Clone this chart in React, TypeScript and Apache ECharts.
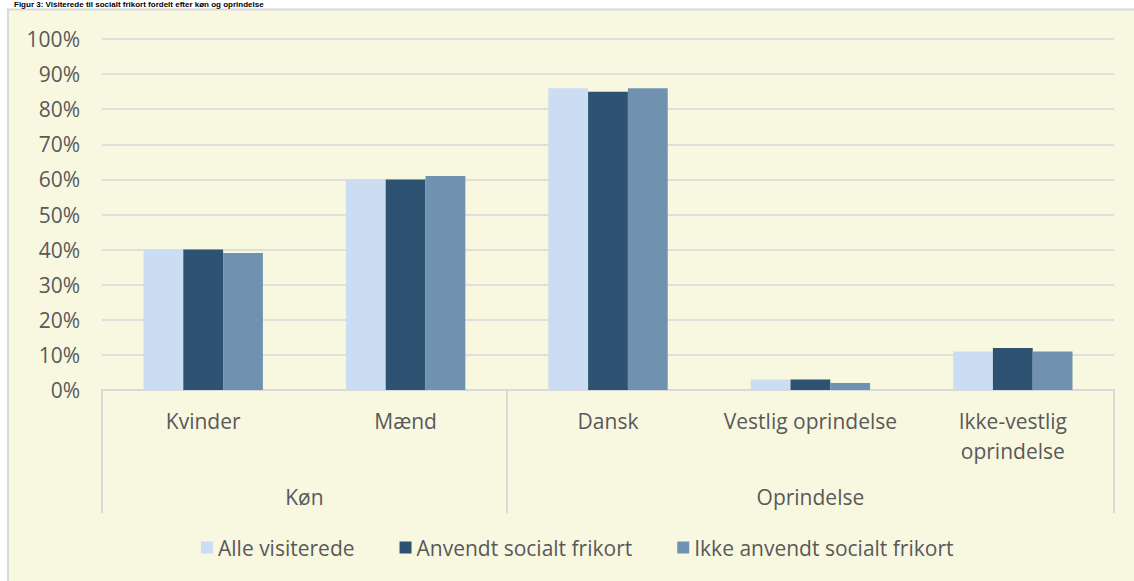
import React, { useEffect, useRef } from "react";
import * as echarts from "echarts";

const titleText = "Figur 3: Visiterede til socialt frikort fordelt efter køn og oprindelse";
const categories = ["Kvinder", "Mænd", "Dansk", "Vestlig oprindelse", "Ikke-vestlig\noprindelse"];
const groupLabels = ["", "", "Køn", "", "", "", "", "Oprindelse", "", "", ""];
const groupStarts = [0, 2];
const seriesNames = ["Alle visiterede", "Anvendt socialt frikort", "Ikke anvendt socialt frikort"];
const alleVisiterede = [40, 60, 86, 3, 11];
const anvendt = [40, 60, 85, 3, 12];
const ikkeAnvendt = [39, 61, 86, 2, 11];
const seriesColors = ["#CBDDF2", "#2E5271", "#7091AF"];
const yMin = 0;
const yMax = 100;
const yInterval = 10;

const FONT = "'Open Sans', 'Noto Sans', sans-serif";
const TEXT = "#595959";
const LINE = "#D9D9D9";
const FS = 21;

export default function App() {
  const ref = useRef<HTMLDivElement>(null);
  useEffect(() => {
    if (!ref.current) return;
    const chart = echarts.init(ref.current, undefined, { renderer: "svg" });
    const values = [alleVisiterede, anvendt, ikkeAnvendt];
    chart.setOption({
      animation: false,
      textStyle: { fontFamily: FONT },
      graphic: [
        {
          type: "rect",
          z: -10,
          silent: true,
          shape: { x: 8, y: 9.5, width: 1130, height: 580 },
          style: { fill: "#F8F8E1", stroke: LINE, lineWidth: 2 },
        },
        {
          type: "text",
          x: 14,
          y: 0,
          silent: true,
          style: {
            text: titleText,
            fill: "#000000",
            font: "bold 8px 'Liberation Sans', Arial, sans-serif",
            verticalAlign: "top",
          },
        },
      ],
      grid: { left: 102, right: 20, top: 39, bottom: 191, containLabel: false },
      legend: {
        data: seriesNames,
        left: 201,
        top: 537,
        padding: 0,
        icon: "rect",
        itemWidth: 12,
        itemHeight: 12,
        itemGap: 45,
        textStyle: { color: TEXT, fontSize: FS, fontFamily: FONT },
      },
      xAxis: [
        {
          type: "category",
          data: categories,
          position: "bottom",
          axisLine: { show: true, lineStyle: { color: LINE, width: 2 } },
          axisTick: {
            show: true,
            interval: (i: number) => groupStarts.includes(i),
            length: 123,
            lineStyle: { color: LINE, width: 2 },
          },
          axisLabel: {
            interval: 0,
            color: TEXT,
            fontSize: FS,
            fontFamily: FONT,
            lineHeight: 30,
            margin: 16,
          },
        },
        {
          type: "category",
          data: groupLabels,
          boundaryGap: false,
          position: "bottom",
          axisLine: { show: false },
          axisTick: { show: false },
          axisLabel: {
            interval: 0,
            color: TEXT,
            fontSize: FS,
            fontFamily: FONT,
            lineHeight: 30,
            margin: 92,
          },
        },
      ],
      yAxis: {
        type: "value",
        min: yMin,
        max: yMax,
        interval: yInterval,
        axisLine: { show: false },
        axisTick: { show: false },
        axisLabel: {
          formatter: "{value}%",
          color: TEXT,
          fontSize: FS,
          fontFamily: FONT,
          margin: 22,
        },
        splitLine: { show: true, lineStyle: { color: LINE, width: 1.5 } },
      },
      series: seriesNames.map((name, i) => ({
        name,
        type: "bar",
        xAxisIndex: 0,
        data: values[i],
        barGap: "0%",
        barCategoryGap: "41%",
        itemStyle: { color: seriesColors[i] },
      })),
    });
    return () => chart.dispose();
  }, []);
  return (
    <div
      ref={ref}
      style={{ position: "absolute", left: 0, top: 0, width: 1134, height: 581 }}
    />
  );
}
